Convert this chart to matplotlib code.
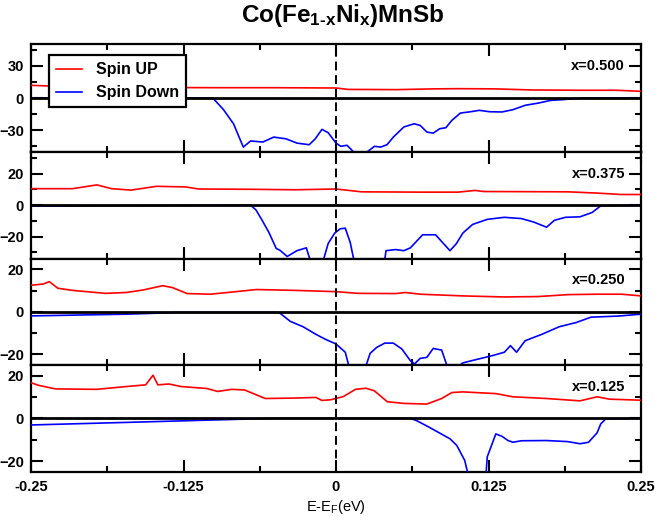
import matplotlib
matplotlib.use("Agg")
import matplotlib.pyplot as plt
from matplotlib.ticker import MultipleLocator

plt.rcParams['font.family'] = ['Liberation Sans', 'DejaVu Sans']
plt.rcParams['font.weight'] = 'bold'
plt.rcParams['mathtext.fontset'] = 'custom'
plt.rcParams['mathtext.rm'] = 'Liberation Sans:bold'
plt.rcParams['mathtext.it'] = 'Liberation Sans:bold'
plt.rcParams['mathtext.bf'] = 'Liberation Sans:bold'
plt.rcParams['mathtext.default'] = 'rm'

# ---------------- data ----------------
compositions = ["x=0.500", "x=0.375", "x=0.250", "x=0.125"]

# x = 0.500
x_up_500 = [-0.25, -0.23, -0.2, -0.15, -0.1, -0.05, 0.0, 0.01, 0.05, 0.08, 0.1, 0.13, 0.16, 0.2, 0.23, 0.25]
up_500 = [11.8, 11, 10.2, 9.8, 9.6, 9.6, 9.3, 8.0, 7.8, 8.5, 8.7, 8.5, 7.5, 7.2, 7.2, 6.2]
x_dn_500 = [-0.25, -0.101, -0.0924, -0.084, -0.076, -0.070, -0.060, -0.051, -0.041, -0.032, -0.022,
            -0.017, -0.0115, -0.0064, 0.0, 0.004, 0.009, 0.016, 0.021, 0.0263, 0.0315, 0.0366, 0.0418,
            0.047, 0.0556, 0.064, 0.069, 0.0745, 0.0797, 0.085, 0.090, 0.095, 0.102, 0.109, 0.1175,
            0.126, 0.136, 0.145, 0.155, 0.166, 0.176, 0.186, 0.202, 0.25]
dn_500 = [0, 0, -10.6, -24, -45.7, -40, -41, -36.4, -38, -42, -43.5, -38, -29.2, -32.3, -42, -45, -44,
          -52, -54, -49.5, -45, -45.7, -43.5, -36.4, -27, -24, -25.5, -31.7, -32.7, -28.6, -27.7, -20.8,
          -14, -13, -11.5, -12.8, -13, -10.9, -6.8, -4.7, -2.2, -1.5, 0, 0]

# x = 0.375
x_up_375 = [-0.25, -0.216, -0.196, -0.184, -0.168, -0.147, -0.123, -0.113, -0.068, -0.034, 0.0, 0.021,
            0.069, 0.1, 0.114, 0.121, 0.19, 0.214, 0.234, 0.25]
up_375 = [10.5, 10.5, 12.9, 10.5, 9.6, 12, 11.6, 10.3, 10.1, 9.8, 10.3, 8.5, 8.3, 8.3, 9.4, 8.7, 8.5,
          7.7, 6.8, 6.8]
x_dn_375 = [-0.25, -0.19, -0.07, -0.0656, -0.061, -0.055, -0.049, -0.046, -0.040, -0.032, -0.0243,
            -0.020, -0.0115, -0.0064, -0.001, 0.0034, 0.0076, 0.0117, 0.016, 0.039, 0.041, 0.0489,
            0.0556, 0.061, 0.071, 0.0816, 0.0934, 0.0986, 0.104, 0.112, 0.124, 0.138, 0.152, 0.162,
            0.1726, 0.179, 0.188, 0.200, 0.210, 0.217, 0.25]
dn_375 = [-0.6, -0.4, 0, -3, -9, -17.3, -27.5, -28.6, -32.6, -28.9, -27.1, -38, -38, -24.3, -17.7,
          -15, -14.6, -23.8, -40, -40, -28.9, -28.2, -28.9, -27.1, -18.8, -18.8, -28.9, -24.5, -17.7,
          -12.2, -9, -7.7, -8.5, -10.7, -14, -9.6, -7.7, -7.4, -4.6, -0.4, 0]

# x = 0.250
x_up_250 = [-0.25, -0.240, -0.235, -0.228, -0.216, -0.189, -0.172, -0.158, -0.142, -0.134, -0.122,
            -0.103, -0.082, -0.065, -0.034, 0.0, 0.018, 0.049, 0.057, 0.069, 0.104, 0.138, 0.166,
            0.19, 0.214, 0.234, 0.25]
up_250 = [12.5, 13.1, 14.2, 11.1, 10.1, 8.7, 9.1, 10.3, 12.3, 11.4, 8.6, 8.3, 9.5, 10.5, 10.1, 9.5,
          8.7, 8.6, 9.1, 8.3, 7.5, 7.0, 7.2, 8.1, 8.3, 8.3, 7.5]
x_dn_250 = [-0.25, -0.172, -0.130, -0.0475, -0.046, -0.0374, -0.027, -0.0167, -0.008, 0.0, 0.0076,
            0.0117, 0.023, 0.028, 0.0334, 0.040, 0.047, 0.054, 0.061, 0.0644, 0.069, 0.0745, 0.0797,
            0.0866, 0.092, 0.097, 0.104, 0.111, 0.128, 0.138, 0.143, 0.148, 0.155, 0.169, 0.183,
            0.197, 0.209, 0.231, 0.25]
dn_250 = [-1.9, -1.1, -0.3, -0.3, -0.6, -4.5, -7, -10.5, -13.1, -15.1, -19, -28, -28, -19.5, -16.7,
          -14.7, -14.7, -17.5, -23, -24.5, -21.9, -21.4, -17.2, -18, -27, -27, -24, -23, -20.6, -19,
          -15.9, -19, -13.6, -10.5, -7, -5, -2.5, -2, -1.1]

# x = 0.125
x_up_125 = [-0.25, -0.244, -0.230, -0.196, -0.172, -0.156, -0.150, -0.146, -0.137, -0.127, -0.106,
            -0.097, -0.0855, -0.075, -0.058, -0.034, -0.0165, -0.0115, -0.0045, 0.006, 0.016, 0.0246,
            0.0315, 0.042, 0.0556, 0.0745, 0.0866, 0.095, 0.104, 0.131, 0.145, 0.1726, 0.200, 0.214,
            0.224, 0.25]
up_125 = [16.7, 15.5, 13.8, 13.6, 14.9, 15.7, 20.2, 15.7, 16.1, 14.9, 14, 12.6, 13.6, 13.3, 9.3, 9.5,
          9.8, 8.4, 8.7, 10.2, 13.6, 14.1, 12.9, 7.8, 7.0, 6.7, 9.3, 12.1, 12.4, 11.6, 10.1, 9.3, 8.2,
          10.1, 9, 8.5]
x_dn_125 = [-0.25, -0.172, -0.103, -0.051, 0.061, 0.0662, 0.0765, 0.0935, 0.099, 0.1055, 0.109,
            0.1227, 0.124, 0.131, 0.136, 0.141, 0.145, 0.152, 0.1726, 0.19, 0.2, 0.207, 0.214, 0.217,
            0.221, 0.25]
dn_125 = [-3.1, -1.9, -0.8, 0, 0, -1.1, -4.2, -9.6, -12.7, -19.7, -28, -28, -18, -7.3, -8.4, -10.4,
          -11.2, -10.5, -10.4, -10.9, -11.9, -11.2, -6.8, -2.6, -0.3, 0]

y_limits = [50, 34, 25, 25]
y_major = [30, 20, 20, 20]
x_ticks = [-0.25, -0.125, 0, 0.125, 0.25]
x_tick_labels = ["-0.25", "-0.125", "0", "0.125", "0.25"]

series = [
    (x_up_500, up_500, x_dn_500, dn_500),
    (x_up_375, up_375, x_dn_375, dn_375),
    (x_up_250, up_250, x_dn_250, dn_250),
    (x_up_125, up_125, x_dn_125, dn_125),
]

# ---------------- figure ----------------
W, H = 657, 517
fig = plt.figure(figsize=(W / 100, H / 100), dpi=100)
left_px, right_px = 31, 641
edges_px = [44.3, 151.7, 258.7, 365.0, 471.7]

axes = []
for i in range(4):
    top, bot = edges_px[i], edges_px[i + 1]
    ax = fig.add_axes([left_px / W, 1 - bot / H, (right_px - left_px) / W, (bot - top) / H])
    axes.append(ax)
    xu, yu, xd, yd = series[i]
    ax.axhline(0, color='black', lw=2.0, zorder=4)
    ax.axvline(0, color='black', lw=1.4, ls=(0, (4.5, 2.5)), zorder=4)
    l1, = ax.plot(xu, yu, color='#ff0000', lw=1.2, zorder=3, label='Spin UP')
    l2, = ax.plot(xd, yd, color='#0000ff', lw=1.2, zorder=3, label='Spin Down')
    lim = y_limits[i]
    ax.set_xlim(-0.25, 0.25)
    ax.set_ylim(-lim, lim)
    ax.yaxis.set_major_locator(MultipleLocator(y_major[i]))
    ax.yaxis.set_minor_locator(MultipleLocator(y_major[i] / 2))
    ax.set_xticks(x_ticks)
    ax.xaxis.set_minor_locator(MultipleLocator(0.0625))
    ax.tick_params(which='both', direction='in', top=True, right=True, width=1.5)
    ax.tick_params(which='major', length=8.5, labelsize=10.5, pad=5)
    ax.tick_params(which='minor', length=4)
    for s in ax.spines.values():
        s.set_linewidth(1.6)
    ax.text(0.974, 0.795, compositions[i], transform=ax.transAxes, ha='right', va='center',
            fontsize=10.5, fontweight='bold', zorder=6)
    if i < 3:
        ax.tick_params(labelbottom=False)
    else:
        ax.set_xticklabels(x_tick_labels)
        ax.tick_params(axis='x', pad=6)
        ax.set_xlabel(r'E-E$_\mathregular{F}$(eV)', fontsize=10.5, fontweight='normal', labelpad=3)
    if i == 0:
        leg = ax.legend(handles=[l1, l2], loc='upper left', bbox_to_anchor=(0.0295, 0.9),
                        borderaxespad=0, fancybox=False, framealpha=1, edgecolor='black',
                        prop={'family': 'Liberation Sans', 'weight': 'bold', 'size': 11.5},
                        handlelength=1.6, handletextpad=0.9, labelspacing=0.5,
                        borderpad=0.45)
        leg.get_frame().set_linewidth(1.6)
        leg.set_zorder(10)

fig.text(343 / W, 1 - 22 / H, r'Co(Fe$_{1\text{-}x}$Ni$_x$)MnSb', ha='center', va='baseline',
         fontsize=17.5, fontweight='bold')

fig.savefig('out.png', dpi=100)
